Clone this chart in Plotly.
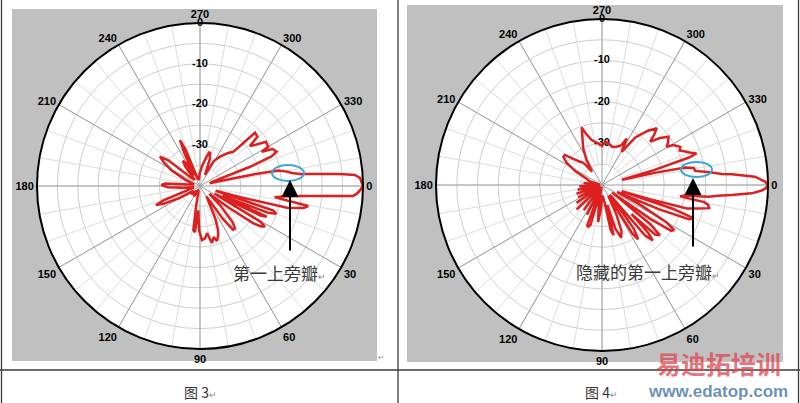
import plotly.graph_objects as go

# ---------------- data: (theta in degrees clockwise from right, gain in dB) ----------------
pattern3 = [
    (0, 0), (1.5, -0.7), (2.9, -1.5), (3.7, -2.4), (4.4, -8.0), (5.6, -14.8), (7.2, -19.5),
    (8.5, -21.5), (10.5, -13), (12, -14), (14, -18), (15.5, -30), (17, -36),
    (18.5, -21), (20, -20.1), (21.5, -22), (23, -34), (24.7, -22), (26, -23.5), (27.5, -36),
    (29, -34), (30.5, -23), (32, -21.2), (33.5, -22), (35, -24), (37, -31), (40, -37), (44, -33),
    (48, -28), (50.5, -26.5), (52.9, -26.5), (55, -30), (58, -37), (62, -35), (65, -31),
    (67.7, -28.3), (70, -27), (72.8, -25.9), (75, -27), (78.1, -25.7), (81.5, -28.3), (84.5, -27.1),
    (87.9, -26.7), (91, -29), (94, -34), (96.2, -28.6), (98.5, -29), (101, -35), (105, -38.5),
    (112, -39), (120, -37), (128, -38.5), (136, -37), (144, -38), (150, -34), (154, -30),
    (156.6, -28.2), (158.5, -30.5), (162, -37), (168, -38.5), (174, -36), (178, -32),
    (181.6, -30.5), (184, -31.5), (187, -37), (195, -38.5), (203, -36), (209, -32), (213, -29.5),
    (216.3, -27.8), (219, -30), (223, -37), (229, -38), (233, -34), (236, -32.5), (239, -33.5),
    (242, -37), (244.5, -31), (246.5, -27.7), (248.5, -30.5), (252, -38), (260, -38.5), (268, -37),
    (276, -35), (282, -33), (285, -31.5), (287, -31.5), (290, -33), (294, -37), (299, -33),
    (304.3, -31.3), (310, -29.5), (314.2, -28.3), (315.9, -21.2), (319.3, -21.4), (321.3, -24.3),
    (323.5, -23), (326.1, -20.5), (330.1, -20.7), (330.9, -22.7), (333, -20), (335.9, -19.4),
    (337.5, -21), (339, -27), (341, -37), (344, -37.5), (346.5, -34), (347.8, -26), (348.8, -20.5),
    (350.6, -18.4), (352, -17.2), (353.2, -15.3), (354.3, -10.4), (355.1, -5.5), (355.9, -1.9),
    (357.1, -0.7), (360, 0)]

pattern4 = [
    (0, 0), (1.2, -0.6), (2, -1.5), (3.2, -3.9), (4.4, -8.7), (5.3, -12), (6.3, -14.2), (7.3, -20),
    (8.3, -21), (9.5, -15), (10.5, -14), (12.2, -13.6), (14, -16.5), (15.5, -18.8), (16.5, -28),
    (17.5, -35), (18.5, -22), (20, -16.6), (21.5, -17.5), (23, -25), (24.5, -36), (27, -30),
    (30, -22), (32, -19.5), (33.5, -20), (35, -26), (36.5, -37), (39, -25), (41, -21.5),
    (43, -22.5), (44.5, -30), (46, -24), (47.5, -21.9), (49.5, -24), (51, -37), (54, -27),
    (56.3, -24.3), (58, -26), (60, -37), (64, -32), (67, -28), (70, -26.5), (73, -29), (75, -35),
    (77, -27.6), (79, -29), (82, -36), (88, -37.5), (93, -34), (96, -31), (99, -35), (102, -39.5),
    (106, -30), (108, -29.4), (110, -29.6), (113, -39.5), (117, -32), (121, -39.5), (126, -32.5),
    (131, -39.5), (136, -31.5), (141, -39.5), (145, -32.5), (149, -39.5), (153, -33.5),
    (157, -39.5), (161, -33.5), (165, -39.5), (169, -34), (173, -39.5), (177, -34.5), (181, -39.5),
    (186, -35.5), (191, -39.5), (196, -37), (202, -36), (207, -33), (212, -30), (216, -28.5),
    (219, -28.5), (222, -30.5), (226.7, -32.3), (230, -33), (233, -36), (238, -33), (243, -30),
    (247, -28), (250.5, -25.3), (252.5, -27), (257, -28.9), (261, -29.5), (265, -29.9),
    (270, -30.6), (274, -29.5), (278.6, -29.8), (285, -30.5), (291, -30.1), (296, -29.3),
    (298, -27.3), (300.6, -30.7), (305, -26), (310, -23), (314, -21), (316, -22.5), (318, -24.4),
    (321, -22), (324, -20.2), (327, -21), (329.4, -21.9), (330.7, -20.3), (334, -19), (336, -19.5),
    (338.5, -18.1), (340, -17.3), (341.5, -16), (342.5, -18), (344, -27), (345.5, -35), (347, -27),
    (348.2, -19.5), (349.5, -17.5), (351.4, -17.3), (353.3, -13.8), (354.7, -11), (355.3, -8.6),
    (356.9, -3.1), (358.8, -0.7), (360, 0)]

theta3 = [p[0] for p in pattern3]
r3 = [p[1] for p in pattern3]
theta4 = [p[0] for p in pattern4]
r4 = [p[1] for p in pattern4]

angle_ticks = list(range(0, 360, 30))
radial_labels = [0, -10, -20, -30]
ring_levels = [-35, -30, -25, -20, -15, -10, -5]

W, H = 800, 403
def px(x): return x / W
def py(y): return 1 - y / H

RED = "#dc1f1f"
FONT = "Liberation Sans"

fig = go.Figure()

panels = [(200, 186, 163, theta3, r3), (602, 185, 166, theta4, r4)]

for i, (cx, cy, R, th, rr) in enumerate(panels):
    base = 3 * i
    names = ["polar" if base == 0 else f"polar{base+1}", f"polar{base+2}", f"polar{base+3}"]
    dom = dict(x=[px(cx - R), px(cx + R)], y=[py(cy + R), py(cy - R)])
    fig.update_layout(**{names[0]: dict(
        domain=dom, bgcolor="white",
        radialaxis=dict(range=[-40, 0], tickvals=ring_levels, showticklabels=False, ticks="",
                        showline=False, gridcolor="#cdcdcd", gridwidth=1),
        angularaxis=dict(rotation=0, direction="clockwise", showgrid=False, showline=False,
                         showticklabels=False, ticks=""))})
    fig.update_layout(**{names[1]: dict(
        domain=dom, bgcolor="rgba(0,0,0,0)", hole=0.125,
        radialaxis=dict(range=[-35, 0], showgrid=False, showticklabels=False, ticks="", showline=False),
        angularaxis=dict(rotation=0, direction="clockwise", dtick=10, showgrid=True,
                         gridcolor="#dcdcdc", gridwidth=1, showline=False, showticklabels=False, ticks=""))})
    fig.update_layout(**{names[2]: dict(
        domain=dom, bgcolor="rgba(0,0,0,0)",
        radialaxis=dict(range=[-40, 0], showgrid=False, showticklabels=False, ticks="", showline=False),
        angularaxis=dict(rotation=0, direction="clockwise", tickvals=angle_ticks, showgrid=True,
                         gridcolor="#9c9c9c", gridwidth=1, showline=True, linecolor="black",
                         linewidth=2, ticks="",
                         tickfont=dict(family=FONT, size=11, color="black", weight="bold")))})
    for n in names[:2]:
        fig.add_trace(go.Scatterpolar(r=[None], theta=[None], subplot=n, showlegend=False,
                                      hoverinfo="skip", mode="lines"))
    fig.add_trace(go.Scatterpolar(r=radial_labels, theta=[270] * len(radial_labels),
                                  text=[str(v) for v in radial_labels], mode="text",
                                  textposition="middle center", subplot=names[2],
                                  textfont=dict(family=FONT, size=11, color="black", weight="bold"),
                                  showlegend=False, hoverinfo="skip"))
    fig.add_trace(go.Scatterpolar(r=rr, theta=th, mode="lines", subplot=names[2],
                                  line=dict(color=RED, width=2.5), showlegend=False))

shapes = []
shapes.append(dict(type="rect", xref="paper", yref="paper", x0=px(12), x1=px(377), y0=py(361), y1=py(9),
                   fillcolor="#c0c0c0", line=dict(width=0), layer="below"))
shapes.append(dict(type="rect", xref="paper", yref="paper", x0=px(407), x1=px(783), y0=py(362), y1=py(5),
                   fillcolor="#c0c0c0", line=dict(width=0), layer="below"))
for (x0, y0, x1, y1) in [(1.5, 0, 1.5, 403), (398, 0, 398, 403), (798.5, 0, 798.5, 403),
                         (0, 370, 800, 370)]:
    shapes.append(dict(type="line", xref="paper", yref="paper", x0=px(x0), x1=px(x1), y0=py(y0), y1=py(y1),
                       line=dict(color="#3a3a3a", width=1.3)))
shapes.append(dict(type="circle", xref="paper", yref="paper", x0=px(272), x1=px(304), y0=py(181), y1=py(165),
                   line=dict(color="#3ba7d6", width=2)))
shapes.append(dict(type="circle", xref="paper", yref="paper", x0=px(681), x1=px(712), y0=py(177), y1=py(162),
                   line=dict(color="#3ba7d6", width=2)))
fig.update_layout(shapes=shapes)

CJK = "Noto Sans CJK SC"
MARK = "<span style='font-size:9px;color:#888'>↵</span>"
ann = []
for (x, yt, yb) in [(290, 180, 252), (693, 178, 248)]:
    ann.append(dict(x=px(x), y=py(yt), xref="paper", yref="paper", ax=0, ay=yb - yt, axref="pixel",
                    ayref="pixel", text="", showarrow=True, arrowhead=2, arrowsize=1.7, arrowwidth=2,
                    arrowcolor="black"))

def label(x, y, text, size, color, family=CJK, weight="normal"):
    ann.append(dict(x=px(x), y=py(y), xref="paper", yref="paper", showarrow=False, text=text,
                    xanchor="center", yanchor="middle",
                    font=dict(family=family, size=size, color=color, weight=weight)))

label(279, 272, "第一上旁瓣" + MARK, 17, "#3a3a3a")
label(648, 271, "隐藏的第一上旁瓣" + MARK, 17, "#3a3a3a")
label(201, 392, "图 3" + MARK, 14, "#333")
label(601, 392, "图 4" + MARK, 14, "#333")
label(381, 357, "↵", 8, "#999", family="DejaVu Sans")
# watermark
label(718, 363, "易迪拓培训", 25, "rgba(222,70,80,0.75)", weight="bold")
label(718, 391, "www.edatop.com", 17, "rgba(80,125,170,0.85)", family="Liberation Sans", weight="bold")
fig.update_layout(annotations=ann)

fig.update_layout(width=W, height=H, margin=dict(l=0, r=0, t=0, b=0), paper_bgcolor="white",
                  showlegend=False)
fig.write_html("out.html", config={"displayModeBar": False},
               post_script="document.body.style.margin='0px';")
